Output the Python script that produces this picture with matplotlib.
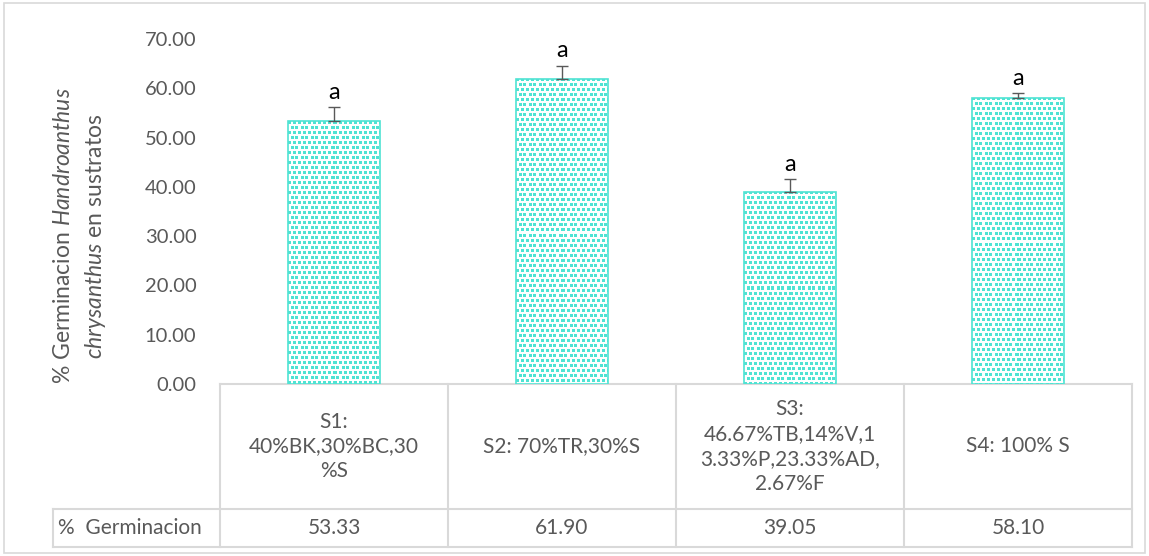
import numpy as np
import matplotlib
matplotlib.use('Agg')
import matplotlib.pyplot as plt
from matplotlib.patches import Rectangle
from matplotlib.colors import to_rgb

plt.rcParams['font.family'] = ['Lato', 'DejaVu Sans']
plt.rcParams['mathtext.fontset'] = 'custom'
plt.rcParams['mathtext.rm'] = 'Lato'
plt.rcParams['mathtext.it'] = 'Lato:italic'

# data
categories = ['S1:\n40%BK,30%BC,30\n%S', 'S2: 70%TR,30%S',
              'S3:\n46.67%TB,14%V,1\n3.33%P,23.33%AD,\n2.67%F', 'S4: 100% S']
germinacion = [53.33, 61.90, 39.05, 58.10]
error_up = [2.8, 2.7, 2.6, 0.9]
letters = ['a', 'a', 'a', 'a']
yticks = np.arange(0, 71, 10)

teal = '#4FE3D3'
grid_gray = '#D9D9D9'
text_gray = '#595959'

W, H = 1149, 556
fig = plt.figure(figsize=(W / 100, H / 100), dpi=100)
ax = fig.add_axes([220 / W, 1 - 384 / H, 912 / W, 345 / H])

x = np.arange(len(categories))
bw = 0.4


def confetti(h, w):
    """small confetti fill, one array cell per pixel"""
    tile = np.zeros((10, 10), bool)
    for r, c in [(0, 0), (0, 5), (5, 3), (5, 7)]:
        tile[r:r + 3, c:c + 3] = True
    m = np.tile(tile, (h // 10 + 1, w // 10 + 1))[:h, :w]
    img = np.ones((h, w, 3))
    img[m] = to_rgb(teal)
    return img


bars = ax.bar(x, germinacion, width=bw, facecolor='none', edgecolor=teal,
              linewidth=1.2, zorder=3)
ax.set_xlim(-0.5, len(categories) - 0.5)
ax.set_ylim(0, 70)
for b in bars:
    x0, y0 = b.get_x(), b.get_y()
    x1, y1 = x0 + b.get_width(), y0 + b.get_height()
    p0 = ax.transData.transform((x0, y0))
    p1 = ax.transData.transform((x1, y1))
    w_px = int(round(p1[0] - p0[0]))
    h_px = int(round(p1[1] - p0[1]))
    im = ax.imshow(confetti(h_px, w_px), extent=(x0, x1, y0, y1),
                   aspect='auto', interpolation='nearest', zorder=2)
    im.set_clip_path(b)
ax.set_xlim(-0.5, len(categories) - 0.5)
ax.set_ylim(0, 70)

ax.errorbar(x, germinacion, yerr=[np.zeros(len(x)), error_up], fmt='none',
            ecolor=text_gray, elinewidth=1.0, capsize=4.5, capthick=1.0, zorder=4)
for xi, v, e, t in zip(x, germinacion, error_up, letters):
    ax.annotate(t, (xi, v + e), xytext=(0, 3), textcoords='offset points',
                ha='center', va='bottom', fontsize=17, color='black')

ax.set_yticks(yticks)
ax.set_yticklabels([f'{v:.2f}' for v in yticks])
ax.tick_params(axis='y', length=0, pad=17, labelsize=14.5, labelcolor=text_gray)
ax.set_xticks([])
for s in ax.spines.values():
    s.set_visible(False)

# data table under the axis
tr = ax.get_xaxis_transform()
row1 = -125 / 345
row2 = -163 / 345
label_left = -0.5 - 167 / 228
lk = dict(color=grid_gray, lw=1.5, transform=tr, clip_on=False, zorder=1)
ax.plot([-0.5, len(x) - 0.5], [0, 0], **lk)
for yy in [row1, row2]:
    ax.plot([label_left, len(x) - 0.5], [yy, yy], **lk)
for i in range(len(x) + 1):
    ax.plot([i - 0.5, i - 0.5], [0, row2], **lk)
ax.plot([label_left, label_left], [row1, row2], **lk)

for xi, c, v in zip(x, categories, germinacion):
    ax.text(xi, row1 / 2, c, transform=tr, ha='center', va='center',
            fontsize=15, color=text_gray, linespacing=1.3)
    ax.text(xi, (row1 + row2) / 2, f'{v:.2f}', transform=tr, ha='center',
            va='center', fontsize=15, color=text_gray)
ax.text(label_left + 5 / 228, (row1 + row2) / 2, '%  Germinacion', transform=tr,
        ha='left', va='center', fontsize=15, color=text_gray)

# y label, two lines with italic species name
yc = 1 - 236 / H
fig.text(63 / W, yc, r'$\mathrm{\%\ Germinacion\ }\mathit{Handroanthus}$',
         rotation=90, ha='center', va='center', fontsize=16.5, color=text_gray)
fig.text(96 / W, yc, r'$\mathit{chrysanthus}\mathrm{\ en\ sustratos}$',
         rotation=90, ha='center', va='center', fontsize=16.5, color=text_gray)

# chart border
fig.patches.append(Rectangle((4 / W, 1 - 553 / H), 1141 / W, 550 / H,
                             transform=fig.transFigure, fill=False,
                             edgecolor=grid_gray, lw=1.2))

fig.savefig('out.png', dpi=100)
